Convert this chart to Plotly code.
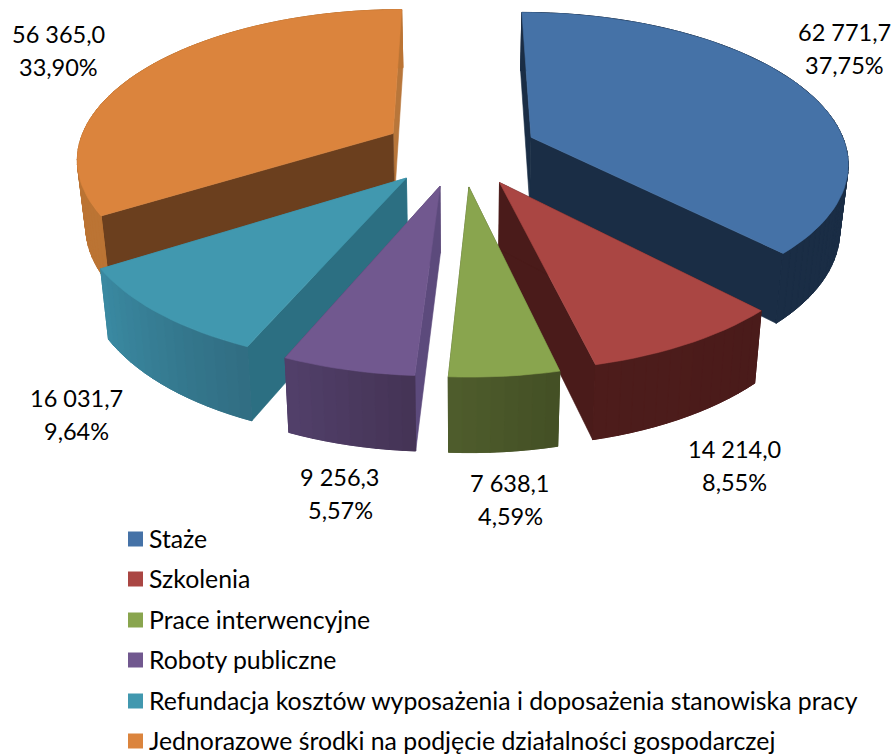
import math
import plotly.graph_objects as go

# ---- data ----
categories = ["Staże", "Szkolenia", "Prace interwencyjne", "Roboty publiczne",
              "Refundacja kosztów wyposażenia i doposażenia stanowiska pracy",
              "Jednorazowe środki na podjęcie działalności gospodarczej"]
values = [62771.7, 14214.0, 7638.1, 9256.3, 16031.7, 56365.0]

# ---- styles ----
top_colors = ["#4572A7", "#AA4643", "#89A54E", "#71588F", "#4198AF", "#DB843D"]
rim_start_colors = ["#1a2d45", "#4a1b1a", "#434f25", "#443355", "#316d82", "#bb7434"]
rim_end_colors = ["#1a2d45", "#4d1c1b", "#4f5d2c", "#52406a", "#3a8aa2", "#bb7434"]
start_wall_colors = ["#1a2d45", "#4a1b1a", "#4a5729", "#5c4a7c", "#2c6f82", "#6b3f1e"]
end_wall_colors = ["#1a2d45", "#4a1b1a", "#4a5729", "#52406a", "#3a8aa2", "#b8763a"]
draw_order = [5, 0, 4, 1, 3, 2]
slice_nudge_x = [0, 0, 0, -4, -5, -4]

# label placement (centre x, first-line y)
label_pos = [(844, 32), (734, 449), (510, 483), (340, 477), (76, 398), (58, 34)]
LABEL_GAP = 33
legend_x = 135.5
legend_text_x = 147
legend_y = [539, 579, 620, 660, 701, 741]

# projection of the tilted disc
CX, CY, A, B, BK = 462, 150.4, 316, 148, 0.155
EXPLODE, DEPTH, CONVERGE = 0.239, 65, 0.022
FONT = "Lato"


def project(X, Y):
    w = 1 + BK * Y
    return CX + A * X / w, CY - B * Y / w, w


def top_pt(p, dx):
    x, y, _ = project(*p)
    return x + dx, y


def bottom_pt(p, dx):
    x, y, w = project(*p)
    return x - CONVERGE * (x - CX) + dx, y + DEPTH / w ** 0.7


def mix(c1, c2, t):
    a = [int(c1[i:i + 2], 16) for i in (1, 3, 5)]
    b = [int(c2[i:i + 2], 16) for i in (1, 3, 5)]
    return "#" + "".join(f"{round(p + (q - p) * t):02x}" for p, q in zip(a, b))


def poly(pts, color, lw=0.6):
    return go.Scatter(x=[p[0] for p in pts] + [pts[0][0]],
                      y=[p[1] for p in pts] + [pts[0][1]],
                      mode="lines", fill="toself", fillcolor=color,
                      line=dict(color=color, width=lw),
                      hoverinfo="skip", showlegend=False)


total = sum(values)
edges = [0.0]
for v in values:
    edges.append(edges[-1] + v / total * 360)

fig = go.Figure()
for i in draw_order:
    a0, a1 = math.radians(edges[i]), math.radians(edges[i + 1])
    mid = (a0 + a1) / 2
    ox, oy = EXPLODE * math.sin(mid), EXPLODE * math.cos(mid)
    dx = slice_nudge_x[i]
    n = max(2, int((edges[i + 1] - edges[i]) / 2))
    angs = [a0 + (a1 - a0) * k / n for k in range(n + 1)]
    rim = [(ox + math.sin(t), oy + math.cos(t)) for t in angs]
    apex = (ox, oy)
    # hidden wall first, the visible front wall after it
    fig.add_trace(poly([top_pt(apex, dx), top_pt(rim[-1], dx), bottom_pt(rim[-1], dx), bottom_pt(apex, dx)],
                       end_wall_colors[i]))
    fig.add_trace(poly([top_pt(apex, dx), top_pt(rim[0], dx), bottom_pt(rim[0], dx), bottom_pt(apex, dx)],
                       start_wall_colors[i]))
    # rim: two passes of shading bands, so that no background shows through the joins
    for _ in range(2):
        for k in range(n):
            col = mix(rim_start_colors[i], rim_end_colors[i], (k + 0.5) / n)
            fig.add_trace(poly([top_pt(rim[k], dx), top_pt(rim[k + 1], dx),
                                bottom_pt(rim[k + 1], dx), bottom_pt(rim[k], dx)], col, 0.8))
    fig.add_trace(poly([top_pt(apex, dx)] + [top_pt(p, dx) for p in rim], top_colors[i]))

# legend
fig.add_trace(go.Scatter(x=[legend_x] * len(categories), y=legend_y, mode="markers",
                         marker=dict(symbol="square", size=15, color=top_colors, line=dict(width=0)),
                         hoverinfo="skip", showlegend=False))
annotations = []
for name, y in zip(categories, legend_y):
    annotations.append(dict(x=legend_text_x, y=y - 1, text=name, xanchor="left", yanchor="middle",
                            showarrow=False, xref="x", yref="y",
                            font=dict(family=FONT, size=24.8, color="#000000")))


def pl(v):
    return f"{v:,.1f}".replace(",", " ").replace(".", ",")


for v, (x, y) in zip(values, label_pos):
    annotations.append(dict(x=x, y=y, text=pl(v), xanchor="center", yanchor="middle",
                            showarrow=False, font=dict(family=FONT, size=23.5, color="#000000")))
    pct = f"{v / total * 100:.2f}%".replace(".", ",")
    annotations.append(dict(x=x, y=y + LABEL_GAP, text=pct, xanchor="center", yanchor="middle",
                            showarrow=False, font=dict(family=FONT, size=23.5, color="#000000")))

fig.update_layout(width=893, height=754, margin=dict(l=0, r=0, t=0, b=0),
                  paper_bgcolor="white", plot_bgcolor="white",
                  xaxis=dict(range=[0, 893], visible=False, fixedrange=True),
                  yaxis=dict(range=[754, 0], visible=False, fixedrange=True),
                  annotations=annotations, showlegend=False)
fig.write_html("out.html", config={"displayModeBar": False},
               post_script="document.body.style.margin='0';document.body.style.overflow='hidden';")
